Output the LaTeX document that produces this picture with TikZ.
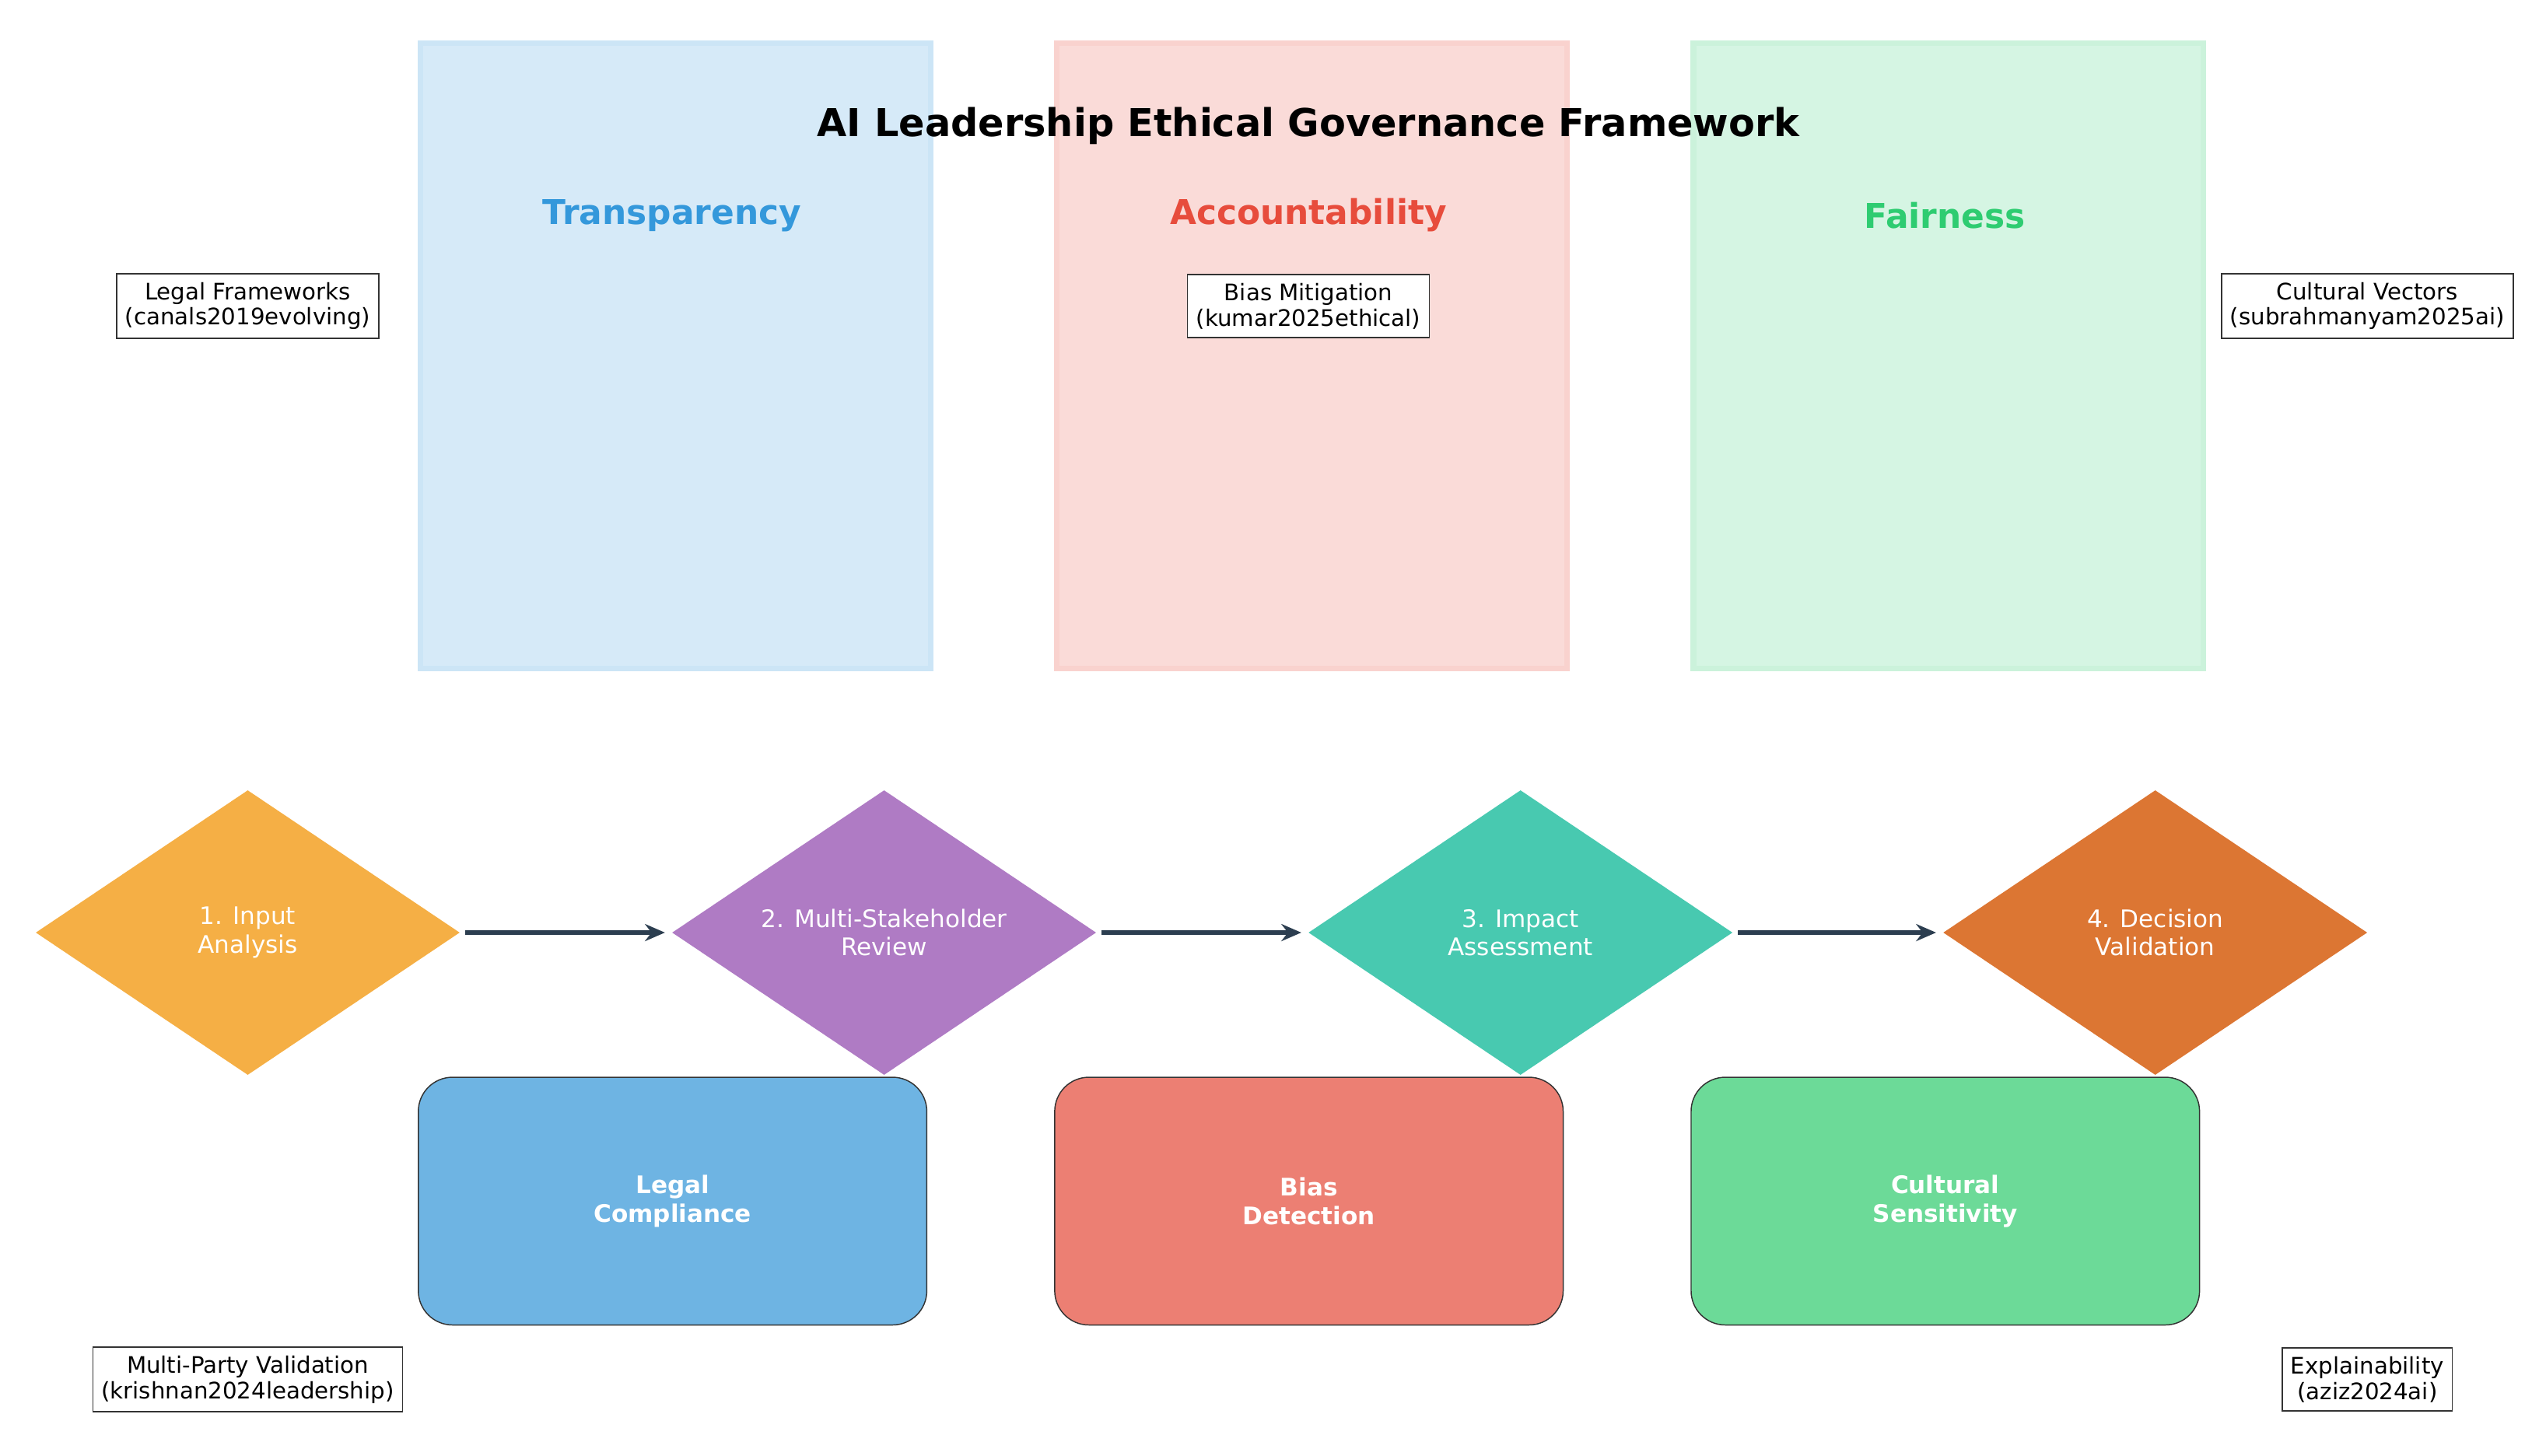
\documentclass[tikz,border=0pt]{standalone}
\usepackage{fontspec}
\setmainfont{DejaVu Sans}
\usetikzlibrary{shapes.geometric,arrows.meta,calc}
\definecolor{c1}{HTML}{3498DB}\definecolor{c2}{HTML}{E74C3C}\definecolor{c3}{HTML}{2ECC71}
\definecolor{dA}{RGB}{245,175,69}\definecolor{dB}{RGB}{175,123,196}
\definecolor{dC}{RGB}{72,201,176}\definecolor{dD}{RGB}{220,118,51}
\definecolor{bA}{RGB}{110,180,227}\definecolor{bB}{RGB}{236,127,115}\definecolor{bC}{RGB}{108,218,152}
\definecolor{ar}{RGB}{44,62,80}
\begin{document}
\begin{tikzpicture}[x=0.02cm,y=-0.02cm,
 col/.style={draw=#1!25,fill=#1!20,line width=2pt,minimum width=315*0.02cm,minimum height=386*0.02cm,anchor=north west},
 lab/.style={draw=black!80,fill=white,font=\fontsize{8}{9}\selectfont,align=center,inner sep=3pt},
 dia/.style={diamond,fill=#1,minimum width=262*0.02cm,minimum height=176*0.02cm,inner sep=0pt,aspect=1.49,text=white,font=\fontsize{8.5}{10}\selectfont,align=center},
 rb/.style={rounded corners=12pt,draw=black!80,fill=#1,minimum width=314*0.02cm,minimum height=153*0.02cm,text=white,font=\bfseries\fontsize{8.5}{10}\selectfont,align=center,anchor=north west},
 arr/.style={-{Stealth[length=7pt,width=6pt]},line width=1.6pt,color=ar}]
\useasboundingbox (0,0) rectangle (1568,899);
\node[col=c1] (p1) at (258,25) {};
\node[col=c2] (p2) at (651,25) {};
\node[col=c3] (p3) at (1044,25) {};
\node[font=\bfseries\fontsize{13.5}{16}\selectfont] (t) at (808,78) {AI Leadership Ethical Governance Framework};
\node[font=\bfseries\fontsize{12}{14}\selectfont,text=c1] (h1) at (415,133) {Transparency};
\node[font=\bfseries\fontsize{12}{14}\selectfont,text=c2] (h2) at (808,133) {Accountability};
\node[font=\bfseries\fontsize{12}{14}\selectfont,text=c3] (h3) at (1201,133) {Fairness};
\node[lab] (l1) at (153,189) {Legal Frameworks\\(canals2019evolving)};
\node[lab] (l2) at (808,189) {Bias Mitigation\\(kumar2025ethical)};
\node[lab] (l3) at (1462,189) {Cultural Vectors\\(subrahmanyam2025ai)};
\node[lab] (l4) at (153,852) {Multi-Party Validation\\(krishnan2024leadership)};
\node[lab] (l5) at (1462,852) {Explainability\\(aziz2024ai)};
\node[dia=dA] (d1) at (153,576) {1. Input\\Analysis};
\node[dia=dB] (d2) at (546,576) {2. Multi-Stakeholder\\Review};
\node[dia=dC] (d3) at (939,576) {3. Impact\\Assessment};
\node[dia=dD] (d4) at (1331,576) {4. Decision\\Validation};
\draw[arr] ($(d1.east)+(3,0)$) -- ($(d2.west)+(-4,0)$);
\draw[arr] ($(d2.east)+(3,0)$) -- ($(d3.west)+(-4,0)$);
\draw[arr] ($(d3.east)+(3,0)$) -- ($(d4.west)+(-4,0)$);
\node[rb=bA] (b1) at (258,665) {Legal\\Compliance};
\node[rb=bB] (b2) at (651,665) {Bias\\Detection};
\node[rb=bC] (b3) at (1044,665) {Cultural\\Sensitivity};
\end{tikzpicture}
\end{document}
